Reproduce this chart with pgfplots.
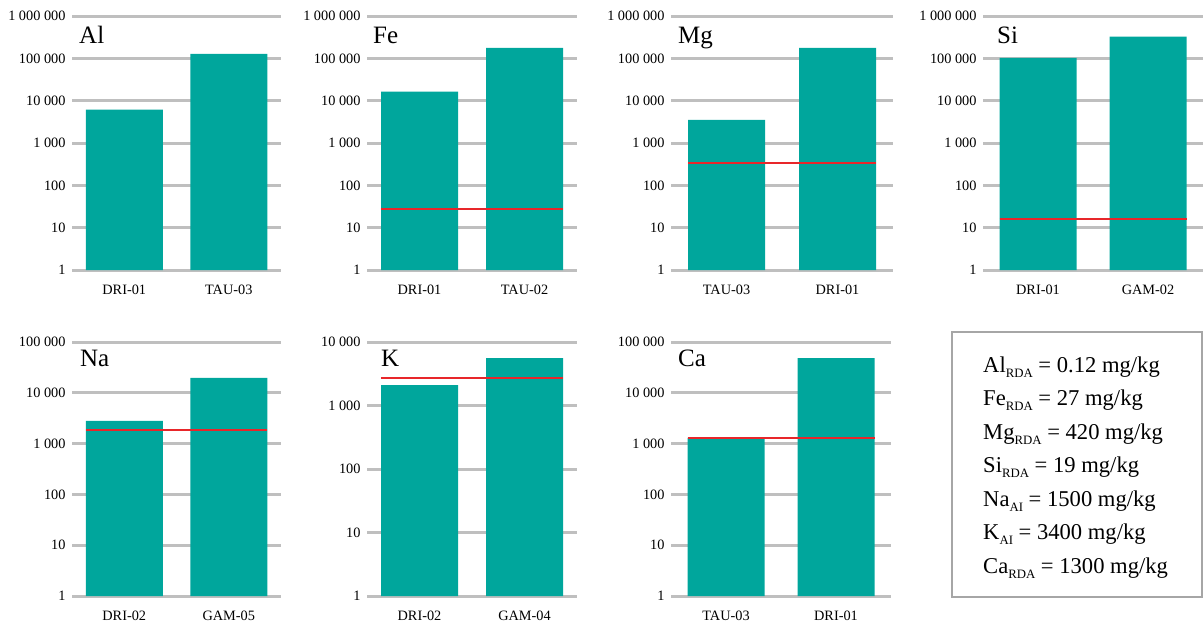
\documentclass[border=0pt]{standalone}
\usepackage{fontspec}
\setmainfont{Liberation Serif}
\usepackage{pgfplots}
\pgfplotsset{compat=1.18}
\definecolor{barteal}{HTML}{00A69C}
\definecolor{gridgray}{HTML}{BFBFBF}
\definecolor{rdared}{HTML}{E8262A}
\definecolor{boxgray}{HTML}{A6A6A6}
\pgfplotsset{
  mypanel/.style={
    scale only axis,
    height=254pt,
    ymin=1,
    xmin=-0.5, xmax=1.5,
    axis line style={draw=none},
    tick style={draw=none},
    major tick length=0pt,
    yminorticks=false,
    ymajorgrids=true,
    grid style={line width=3pt, gridgray},
    xtick={0,1},
    tick label style={font=\fontsize{14.3}{15}\selectfont},
    yticklabel style={anchor=east, xshift=-3pt},
    xticklabel style={anchor=north, yshift=-11.5pt},
  },
  mytopticks/.style={ymax=1000000,
    ytick={1,10,100,1000,10000,100000,1000000},
    yticklabels={1,10,100,1~000,10~000,100~000,1~000~000}},
  mybotticks/.style={ymax=100000,
    ytick={1,10,100,1000,10000,100000},
    yticklabels={1,10,100,1~000,10~000,100~000}},
  mykticks/.style={ymax=10000,
    ytick={1,10,100,1000,10000},
    yticklabels={1,10,100,1~000,10~000}},
  mybars/.style={ybar, bar width=77pt, fill=barteal, draw=none},
  myrda/.style={sharp plot, no marks, rdared, line width=2.2pt},
}
\newcommand{\paneltitle}[3]{\node[anchor=base west, inner sep=0pt, font=\fontsize{25}{25}\selectfont] at ([xshift=#2pt,yshift=-#3pt]rel axis cs:0,1) {#1};}
\newcommand{\sub}[1]{\raisebox{-5pt}{\fontsize{12.8}{12.8}\selectfont #1}}
\begin{document}
\begin{tikzpicture}
\useasboundingbox (0pt,0pt) rectangle (1204pt,-625pt);
% Al
\begin{semilogyaxis}[mypanel, mytopticks, at={(72pt,-270pt)}, anchor=south west, width=209pt,
  xticklabels={DRI-01,TAU-03}]
  \addplot[mybars] coordinates {(0,6110) (1,127700)};
  \paneltitle{Al}{7}{27}
\end{semilogyaxis}
% Fe
\begin{semilogyaxis}[mypanel, mytopticks, at={(367pt,-270pt)}, anchor=south west, width=210pt,
  xticklabels={DRI-01,TAU-02}]
  \addplot[mybars] coordinates {(0,16300) (1,176000)};
  \addplot[myrda] coordinates {(-0.367,28) (1.367,28)};
  \paneltitle{Fe}{6}{27}
\end{semilogyaxis}
% Mg
\begin{semilogyaxis}[mypanel, mytopticks, at={(671pt,-270pt)}, anchor=south west, width=222pt,
  xticklabels={TAU-03,DRI-01}]
  \addplot[mybars] coordinates {(0,3500) (1,176000)};
  \addplot[myrda] coordinates {(-0.347,343) (1.347,343)};
  \paneltitle{Mg}{7}{27}
\end{semilogyaxis}
% Si
\begin{semilogyaxis}[mypanel, mytopticks, at={(983pt,-270pt)}, anchor=south west, width=220pt,
  xticklabels={DRI-01,GAM-02}]
  \addplot[mybars] coordinates {(0,103000) (1,325000)};
  \addplot[myrda] coordinates {(-0.35,16) (1.35,16)};
  \paneltitle{Si}{14}{27}
\end{semilogyaxis}
% Na
\begin{semilogyaxis}[mypanel, mybotticks, at={(72pt,-596pt)}, anchor=south west, width=209pt,
  xticklabels={DRI-02,GAM-05}]
  \addplot[mybars] coordinates {(0,2790) (1,19600)};
  \addplot[myrda] coordinates {(-0.368,1860) (1.368,1860)};
  \paneltitle{Na}{8}{24}
\end{semilogyaxis}
% K
\begin{semilogyaxis}[mypanel, mykticks, at={(367pt,-596pt)}, anchor=south west, width=210pt,
  xticklabels={DRI-02,GAM-04}]
  \addplot[mybars] coordinates {(0,2100) (1,5600)};
  \addplot[myrda] coordinates {(-0.367,2700) (1.367,2700)};
  \paneltitle{K}{14}{24}
\end{semilogyaxis}
% Ca
\begin{semilogyaxis}[mypanel, mybotticks, at={(671pt,-596pt)}, anchor=south west, width=220pt,
  xticklabels={TAU-03,DRI-01}]
  \addplot[mybars] coordinates {(0,1290) (1,48400)};
  \addplot[myrda] coordinates {(-0.35,1310) (1.35,1310)};
  \paneltitle{Ca}{7}{24}
\end{semilogyaxis}
% legend box
\draw[boxgray, line width=2pt] (952pt,-332pt) rectangle (1202pt,-597pt);
\begin{scope}[every node/.style={anchor=base west, inner sep=0pt, font=\fontsize{22.6}{22.6}\selectfont}]
\node at (983pt,-372pt) {Al\sub{RDA} = 0.12 mg/kg};
\node at (983pt,-405.5pt) {Fe\sub{RDA} = 27 mg/kg};
\node at (983pt,-439pt) {Mg\sub{RDA} = 420 mg/kg};
\node at (983pt,-472.5pt) {Si\sub{RDA} = 19 mg/kg};
\node at (983pt,-506pt) {Na\sub{AI} = 1500 mg/kg};
\node at (983pt,-539.5pt) {K\sub{AI} = 3400 mg/kg};
\node at (983pt,-573pt) {Ca\sub{RDA} = 1300 mg/kg};
\end{scope}
\end{tikzpicture}
\end{document}
